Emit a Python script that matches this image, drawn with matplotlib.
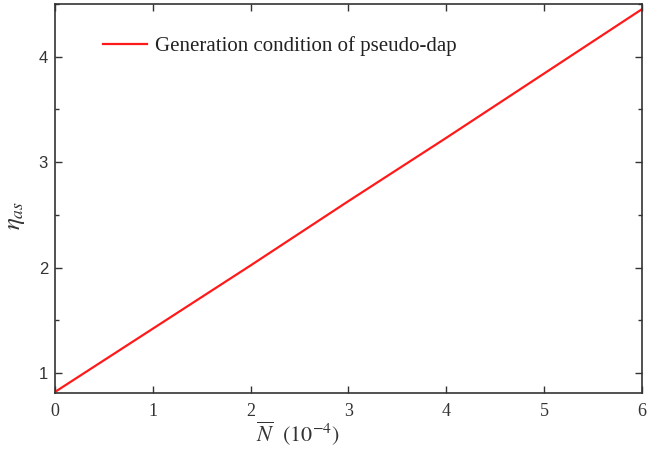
import matplotlib
matplotlib.use('agg')
import matplotlib.pyplot as plt
from matplotlib.ticker import MultipleLocator

# line
n_bar = [0, 1, 2, 3, 4, 5, 6]
eta_as = [0.82, 1.42, 2.02, 2.63, 3.23, 3.84, 4.45]

plt.rcParams['mathtext.fontset'] = 'stix'

fig = plt.figure(figsize=(6.72, 4.49), dpi=100)
ax = fig.add_axes([0.0818, 0.1247, 0.8732, 0.8663])

ax.plot(n_bar, eta_as, color='#ff1a1a', lw=1.6,
        label='Generation condition of pseudo-dap')

ax.set_xlim(0, 6)
ax.set_ylim(0.81, 4.5)
ax.xaxis.set_major_locator(MultipleLocator(1))
ax.yaxis.set_major_locator(MultipleLocator(1))
ax.yaxis.set_minor_locator(MultipleLocator(0.5))

ax.tick_params(which='both', direction='in', top=True, right=True,
               width=1.0, color='#333333')
ax.tick_params(which='major', length=5)
ax.tick_params(which='minor', length=3)
for s in ax.spines.values():
    s.set_linewidth(1.2)
    s.set_color('#333333')

for lab in ax.get_xticklabels():
    lab.set_fontfamily('Liberation Serif')
    lab.set_fontsize(13)
    lab.set_color('#333333')
for lab in ax.get_yticklabels():
    lab.set_fontfamily('Liberation Sans')
    lab.set_fontsize(12)
    lab.set_color('#333333')
ax.tick_params(axis='x', pad=7)
ax.tick_params(axis='y', pad=5)

ax.set_xlabel(r'$\overline{N}\ \ (\mathrm{10}^{-4})$', fontsize=16, color='#333333')
ax.xaxis.set_label_coords(0.414, -0.07)
ax.set_ylabel(r'$\eta_{as}$', fontsize=18, color='#333333')
ax.yaxis.set_label_coords(-0.048, 0.457)

leg = ax.legend(loc='upper left', bbox_to_anchor=(0.05, 0.965), frameon=False,
                prop={'family': 'Liberation Serif', 'size': 15},
                handlelength=2.1, handletextpad=0.4)
for t in leg.get_texts():
    t.set_color('#222222')

fig.savefig('out.png', dpi=100)
